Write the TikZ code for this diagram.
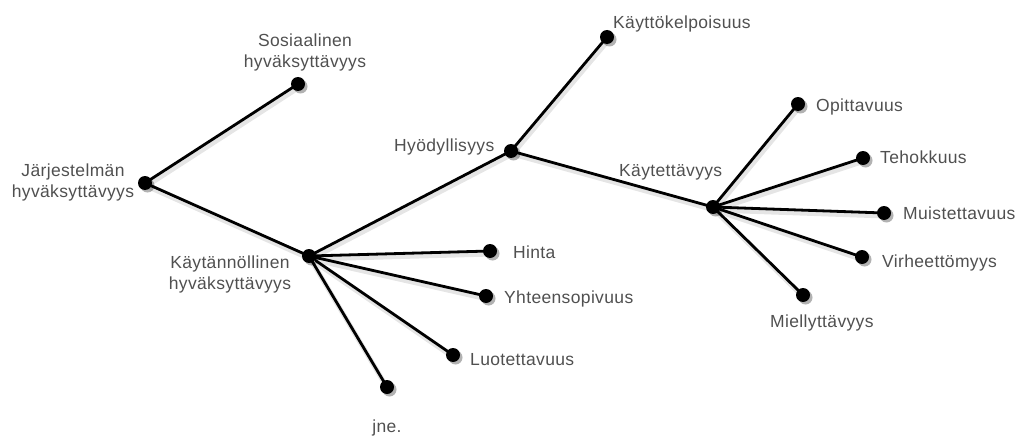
\documentclass[tikz,border=0pt]{standalone}
\usepackage{fontspec}
\setmainfont[LetterSpace=2]{Liberation Sans}
\usetikzlibrary{shadows}
\pgfdeclarelayer{background}
\pgfsetlayers{background,main}
\definecolor{txtgray}{RGB}{80,80,80}
\begin{document}
\begin{tikzpicture}[x=1pt,y=-1pt,
  dot/.style={circle,fill=black,inner sep=0pt,minimum size=14pt,
    drop shadow={shadow xshift=2.5pt,shadow yshift=-2.5pt,opacity=0.3,fill=black}},
  lbl/.style={text=txtgray,inner sep=0pt,font=\fontsize{17.5}{21}\selectfont},
  conn/.style={line width=2.8pt,black,
    preaction={draw,line width=5pt,black!10,transform canvas={shift={(1.5pt,-3pt)}}}}]
\useasboundingbox (0,0) rectangle (1020,436);
% dots
\node[dot] (J) at (145,183) {};
\node[dot] (S) at (298,84) {};
\node[dot] (K) at (309,256) {};
\node[dot] (H) at (511,151) {};
\node[dot] (KK) at (607,37) {};
\node[dot] (KT) at (713,207) {};
\node[dot] (Hi) at (490,251) {};
\node[dot] (Yh) at (486,296) {};
\node[dot] (Lu) at (453,355) {};
\node[dot] (Jn) at (387,387) {};
\node[dot] (Op) at (798,104) {};
\node[dot] (Te) at (863,158) {};
\node[dot] (Mu) at (884,213) {};
\node[dot] (Vi) at (862,257) {};
\node[dot] (Mi) at (803,295) {};
% connectors (behind dots)
\begin{pgfonlayer}{background}
\foreach \a/\b in {J/S,J/K,K/H,K/Hi,K/Yh,K/Lu,K/Jn,H/KK,H/KT,KT/Op,KT/Te,KT/Mu,KT/Vi,KT/Mi}{
  \draw[conn] (\a.center) -- (\b.center);
}
\end{pgfonlayer}
% labels
\node[lbl,align=center] (lJ) at (73,182.5) {Järjestelmän\\hyväksyttävyys};
\node[lbl,align=center] (lS) at (305,52) {Sosiaalinen\\hyväksyttävyys};
\node[lbl,align=center] (lK) at (230,274.5) {Käytännöllinen\\hyväksyttävyys};
\node[lbl,anchor=base west] (lH) at (394,151) {Hyödyllisyys};
\node[lbl,anchor=base west] (lKK) at (613,29) {Käyttökelpoisuus};
\node[lbl,anchor=base west] (lKT) at (619,176) {Käytettävyys};
\node[lbl,anchor=base west] (lHi) at (513,258) {Hinta};
\node[lbl,anchor=base west] (lYh) at (504,303) {Yhteensopivuus};
\node[lbl,anchor=base west] (lLu) at (470,365) {Luotettavuus};
\node[lbl,anchor=base] (lJn) at (387,432) {jne.};
\node[lbl,anchor=base west] (lOp) at (816,111) {Opittavuus};
\node[lbl,anchor=base west] (lTe) at (880,163) {Tehokkuus};
\node[lbl,anchor=base west] (lMu) at (903,219) {Muistettavuus};
\node[lbl,anchor=base west] (lVi) at (882,267) {Virheettömyys};
\node[lbl,anchor=base west] (lMi) at (770,327) {Miellyttävyys};
\end{tikzpicture}
\end{document}
